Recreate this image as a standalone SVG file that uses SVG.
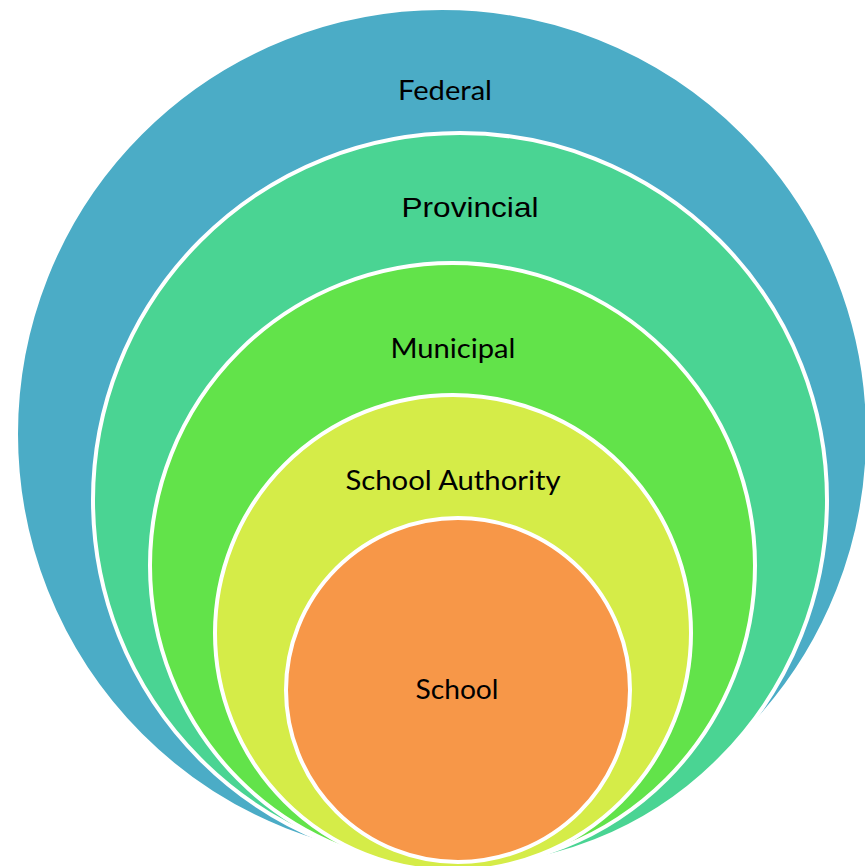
<svg xmlns="http://www.w3.org/2000/svg" width="865" height="866" viewBox="0 0 865 866">
<style>
.ring{stroke:#fff;stroke-width:4}
.lbl{font-family:Lato,"Open Sans","Liberation Sans",sans-serif;font-size:26px;fill:#000;text-anchor:middle}
.arial{font-family:"Liberation Sans",Arial,sans-serif;font-size:28px;fill:#000;text-anchor:middle}
</style>
<rect width="865" height="866" fill="#fff"/>
<g id="federal">
<circle class="ring" cx="442" cy="434" r="426" fill="#4BACC6" stroke="none"/>
<text class="lbl" x="445" y="100" textLength="94" lengthAdjust="spacingAndGlyphs">Federal</text>
</g>
<g id="provincial">
<circle class="ring" cx="460" cy="500" r="367" fill="#4AD493"/>
<text class="arial" x="470" y="217" textLength="137" lengthAdjust="spacingAndGlyphs">Provincial</text>
</g>
<g id="municipal">
<circle class="ring" cx="452.5" cy="565.5" r="302.5" fill="#62E34A"/>
<text class="lbl" x="453" y="358" textLength="125" lengthAdjust="spacingAndGlyphs">Municipal</text>
</g>
<g id="school-authority">
<circle class="ring" cx="453" cy="633" r="238" fill="#D5EC48"/>
<text class="lbl" x="453" y="490" textLength="215" lengthAdjust="spacingAndGlyphs">School Authority</text>
</g>
<g id="school">
<circle class="ring" cx="458" cy="690" r="172" fill="#F79748"/>
<text class="lbl" x="457" y="699" textLength="83" lengthAdjust="spacingAndGlyphs">School</text>
</g>
<g id="connectors"/>
</svg>
